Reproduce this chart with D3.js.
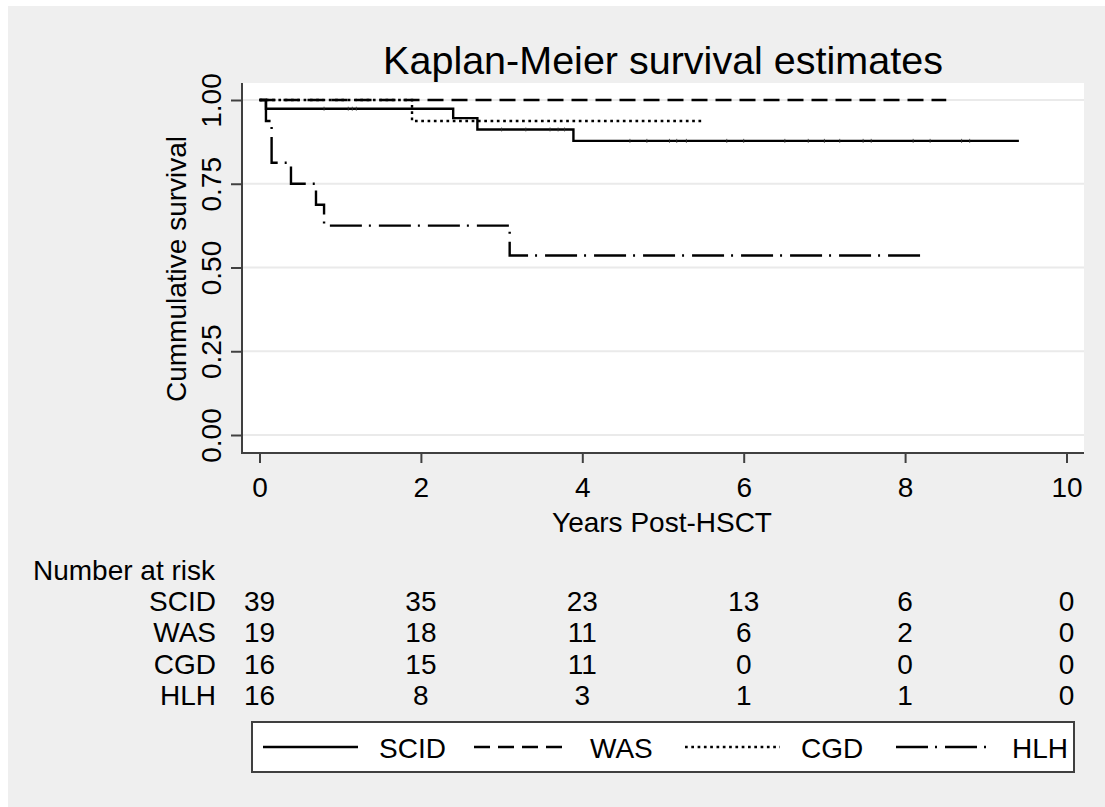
<!DOCTYPE html>
<html>
<head>
<meta charset="utf-8">
<script src="https://cdn.jsdelivr.net/npm/d3@7"></script>
<style>
  html, body { margin: 0; padding: 0; background: #ffffff; }
  svg { display: block; }
  text { font-family: "Liberation Sans", Arial, sans-serif; fill: #000; }
</style>
</head>
<body>
<svg id="chart" width="1105" height="807"></svg>
<script>
// ---------------- data ----------------
const groups = ["SCID", "WAS", "CGD", "HLH"];
const xTicks = [0, 2, 4, 6, 8, 10];
const yTicks = [0, 0.25, 0.5, 0.75, 1];
const yTickLabels = ["0.00", "0.25", "0.50", "0.75", "1.00"];

// Kaplan-Meier step curves (time in years, survival)
const scidTimes = [0, 0.08, 2.40, 2.70, 3.89];
const scidSurv  = [1, 0.974, 0.946, 0.912, 0.878];
const scidEnd = 9.41;
const wasTimes = [0];
const wasSurv  = [1];
const wasEnd = 8.51;
const cgdTimes = [0, 1.89];
const cgdSurv  = [1, 0.9375];
const cgdEnd = 5.50;
const hlhTimes = [0, 0.08, 0.15, 0.39, 0.70, 0.80, 3.10];
const hlhSurv  = [1, 0.9375, 0.8125, 0.75, 0.6875, 0.625, 0.536];
const hlhEnd = 8.21;

// censoring times visible on SCID curve
const scidCensor = [0.80, 1.10, 1.15, 1.20, 3.00, 3.30, 3.60, 3.70, 3.78, 4.59, 4.80, 5.08, 5.17, 5.29,
                    5.79, 6.00, 6.51, 6.80, 7.00, 7.19, 7.48, 7.58, 8.10, 8.31, 8.70, 8.80];

// number at risk at xTicks
const riskSCID = [39, 35, 23, 13, 6, 0];
const riskWAS  = [19, 18, 11, 6, 2, 0];
const riskCGD  = [16, 15, 11, 0, 0, 0];
const riskHLH  = [16, 8, 3, 1, 1, 0];

// ---------------- drawing ----------------
const svg = d3.select("#chart");

const plotL = 242, plotR = 1084, plotT = 83, plotB = 453;
const x = d3.scaleLinear().domain([0, 10]).range([259.5, 1066.5]);
const y = d3.scaleLinear().domain([0, 1]).range([435, 100]);

// outer background
svg.append("rect").attr("x", 8).attr("y", 6).attr("width", 1105 - 8).attr("height", 807 - 6)
  .attr("fill", "#efefef");
// plot region
svg.append("rect").attr("x", plotL).attr("y", plotT).attr("width", plotR - plotL).attr("height", plotB - plotT)
  .attr("fill", "#ffffff");

// gridlines
svg.append("g").selectAll("line").data(yTicks).join("line")
  .attr("x1", plotL).attr("x2", plotR)
  .attr("y1", d => y(d)).attr("y2", d => y(d))
  .attr("stroke", "#eaeaea").attr("stroke-width", 2);

// curves
const styles = {
  SCID: { dash: null },
  WAS:  { dash: "16,8" },
  CGD:  { dash: "2.7,3.6" },
  HLH:  { dash: "32,7,2,8" }
};
function stepData(times, surv, end) {
  const pts = times.map((t, i) => [t, surv[i]]);
  pts.push([end, surv[surv.length - 1]]);
  return pts;
}
const curves = [
  { name: "SCID", pts: stepData(scidTimes, scidSurv, scidEnd) },
  { name: "WAS",  pts: stepData(wasTimes, wasSurv, wasEnd) },
  { name: "CGD",  pts: stepData(cgdTimes, cgdSurv, cgdEnd) },
  { name: "HLH",  pts: stepData(hlhTimes, hlhSurv, hlhEnd) }
];
const line = d3.line().x(d => x(d[0])).y(d => y(d[1])).curve(d3.curveStepAfter);

svg.append("g").selectAll("path").data(curves).join("path")
  .attr("d", d => line(d.pts))
  .attr("fill", "none")
  .attr("stroke", "#000")
  .attr("stroke-width", 2.4)
  .attr("stroke-dasharray", d => styles[d.name].dash);

// censor ticks on SCID
function survAt(times, surv, t) {
  let v = surv[0];
  for (let i = 0; i < times.length; i++) if (times[i] <= t) v = surv[i];
  return v;
}
svg.append("g").selectAll("line").data(scidCensor).join("line")
  .attr("x1", d => x(d)).attr("x2", d => x(d))
  .attr("y1", d => y(survAt(scidTimes, scidSurv, d)) - 2)
  .attr("y2", d => y(survAt(scidTimes, scidSurv, d)) + 2)
  .attr("stroke", "#333").attr("stroke-width", 0.8);

// axes lines
svg.append("line").attr("x1", plotL).attr("x2", plotL).attr("y1", plotT).attr("y2", plotB + 1)
  .attr("stroke", "#404040").attr("stroke-width", 2);
svg.append("line").attr("x1", plotL - 1).attr("x2", plotR).attr("y1", plotB).attr("y2", plotB)
  .attr("stroke", "#404040").attr("stroke-width", 2);

// x axis
const xAxis = d3.axisBottom(x).tickValues(xTicks).tickSize(10).tickSizeOuter(0).tickPadding(6);
const gx = svg.append("g").attr("transform", `translate(0,${plotB})`).call(xAxis);
gx.select(".domain").remove();
gx.selectAll(".tick line").attr("stroke", "#404040").attr("stroke-width", 2);
gx.selectAll(".tick text").attr("font-size", 28).attr("font-family", "Liberation Sans, Arial, sans-serif")
  .attr("fill", "#000").attr("dy", null).attr("y", 44);

// y axis
const yAxis = d3.axisLeft(y).tickValues(yTicks).tickSize(11).tickSizeOuter(0)
  .tickFormat((d, i) => yTickLabels[i]);
const gy = svg.append("g").attr("transform", `translate(${plotL},0)`).call(yAxis);
gy.select(".domain").remove();
gy.selectAll(".tick line").attr("stroke", "#404040").attr("stroke-width", 2);
gy.selectAll(".tick text")
  .attr("font-size", 28).attr("font-family", "Liberation Sans, Arial, sans-serif").attr("fill", "#000")
  .attr("x", null).attr("dy", null)
  .attr("text-anchor", "middle")
  .attr("transform", "translate(-21,0) rotate(-90)");

// titles
svg.append("text").attr("x", 663).attr("y", 74).attr("text-anchor", "middle")
  .attr("font-size", 39.5).text("Kaplan-Meier survival estimates");
svg.append("text").attr("x", 662).attr("y", 532).attr("text-anchor", "middle")
  .attr("font-size", 28).text("Years Post-HSCT");
svg.append("text").attr("transform", "translate(186,269) rotate(-90)").attr("text-anchor", "middle")
  .attr("font-size", 28).text("Cummulative survival");

// number at risk table
svg.append("text").attr("x", 33).attr("y", 580).attr("font-size", 28).text("Number at risk");
const riskRows = [riskSCID, riskWAS, riskCGD, riskHLH];
const rowY = d3.scalePoint().domain(groups).range([611, 705]);
const tbl = svg.append("g");
groups.forEach((g, gi) => {
  tbl.append("text").attr("x", 216).attr("y", rowY(g)).attr("text-anchor", "end")
    .attr("font-size", 28).text(g);
  tbl.selectAll(null).data(riskRows[gi]).join("text")
    .attr("x", (d, i) => x(xTicks[i])).attr("y", rowY(g))
    .attr("text-anchor", "middle").attr("font-size", 28).text(d => d);
});

// legend
const lg = svg.append("g");
lg.append("rect").attr("x", 253).attr("y", 723).attr("width", 822).attr("height", 50)
  .attr("fill", "#bdbdbd");
lg.append("rect").attr("x", 252).attr("y", 722).attr("width", 822).attr("height", 50)
  .attr("fill", "#fff").attr("stroke", "#404040").attr("stroke-width", 2);
const legX = d3.scalePoint().domain(groups).range([263, 896]);
groups.forEach(g => {
  lg.append("line").attr("x1", legX(g)).attr("x2", legX(g) + 95).attr("y1", 747).attr("y2", 747)
    .attr("stroke", "#000").attr("stroke-width", 2.4).attr("stroke-dasharray", styles[g].dash);
  lg.append("text").attr("x", legX(g) + 116).attr("y", 758).attr("font-size", 28).text(g);
});
</script>
</body>
</html>
